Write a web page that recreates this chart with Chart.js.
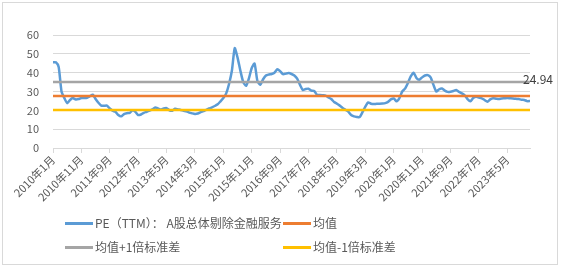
<!DOCTYPE html>
<html lang="zh">
<head>
  <meta charset="UTF-8" />
  <title>PE（TTM）：A股总体剔除金融服务</title>
  <script src="https://cdn.jsdelivr.net/npm/chart.js"></script>
  <style>
    body { margin: 0; background: #fff; font-family: "Noto Sans CJK SC", sans-serif; }
    #wrap { position: relative; width: 562px; height: 269px; }
    #frame { position: absolute; left: 2px; top: 2px; width: 556px; height: 263px; border: 1px solid #d9d9d9; box-sizing: border-box; }
    canvas { position: absolute; left: 0; top: 0; }
    .lg { position: absolute; font-size: 12px; color: #595959; line-height: 14px; white-space: nowrap; }
    .lg i { display: inline-block; width: 28px; height: 3px; vertical-align: middle; margin-right: 2px; position: relative; top: -1px; }
  </style>
</head>
<body>
  <div id="wrap">
    <div id="frame"></div>
    <canvas id="c" width="562" height="269"></canvas>
    <div class="lg" style="left:65px; top:216px"><i style="background:#5b9bd5"></i>PE（TTM）： A股总体剔除金融服务</div>
    <div class="lg" style="left:283px; top:216px"><i style="background:#ed7d31"></i>均值</div>
    <div class="lg" style="left:65px; top:240px"><i style="background:#a5a5a5"></i>均值+1倍标准差</div>
    <div class="lg" style="left:283px; top:240px"><i style="background:#ffc000"></i>均值-1倍标准差</div>
  </div>
  <script>
    // monthly categories 2010年1月 .. 2024年1月
    const months = [];
    for (let y = 2010; y <= 2024; y++) {
      for (let m = 1; m <= 12; m++) {
        if (y === 2024 && m > 1) break;
        months.push(y + '年' + m + '月');
      }
    }

    // PE (TTM)
    const peValues = [
      45.5, 45.5, 43, 30, 26.5, 23.8, 25.5, 26.5, 25.8, 26,
      26.6, 26.5, 26.7, 27.5, 28.3, 26, 24, 22.5, 22.4, 22.5,
      21, 19.8, 19.2, 17.5, 16.8, 18, 18.5, 18.6, 20, 19.2,
      17.5, 17.8, 18.7, 19.2, 19.8, 20.5, 21.5, 21, 20.4, 21,
      21.2, 20, 19.8, 20.8, 20.5, 20.2, 19.8, 19.5, 18.8, 18.4,
      18.1, 18.3, 19, 19.6, 20.2, 21, 21.6, 22.3, 23.2, 24.8,
      26.5, 29, 34, 41, 53, 48, 41, 35, 33, 37,
      42.5, 44.8, 35.5, 33.6, 36.5, 38.5, 39, 39.3, 40, 41.8,
      40.8, 39.2, 39.5, 39.8, 39.3, 38.5, 36.8, 33.5, 30.8, 31.3,
      31.5, 30.5, 30.3, 28.2, 28.2, 28, 27.8, 26.9, 26, 24.4,
      23.5, 22.5, 21.3, 20.3, 19.3, 17.5, 16.8, 16.5, 16.4, 19,
      22, 24.2, 23.5, 23.3, 23.5, 23.5, 23.6, 23.8, 24.5, 25.8,
      26.3, 24.8, 26.5, 30, 31.5, 34.5, 38, 40, 37.2, 36.2,
      37.5, 38.5, 38.7, 37.5, 33.5, 30, 31.2, 31.6, 30.5, 29.8,
      29.9, 30.3, 30.8, 29.8, 29, 28, 26, 24.8, 26.5, 27.2,
      26.8, 26.4, 25.5, 24.6, 25.8, 26.4, 26.2, 26, 26.3, 26.4,
      26.5, 26.4, 26.3, 26.1, 26, 25.6, 25.5, 24.9, 24.94
    ];
    const meanValue = 27.6;
    const upperValue = 35.0;
    const lowerValue = 20.2;
    const yTicks = [0, 10, 20, 30, 40, 50, 60];

    const lastLabel = {
      id: 'lastLabel',
      afterDatasetsDraw(chart) {
        const ctx = chart.ctx;
        const x = chart.scales.x.getPixelForValue(peValues.length - 1);
        const y = chart.scales.y.getPixelForValue(peValues[peValues.length - 1]);
        ctx.save();
        ctx.font = '12px "Noto Sans CJK SC", sans-serif';
        ctx.fillStyle = '#404040';
        ctx.textAlign = 'left';
        ctx.textBaseline = 'middle';
        ctx.fillText(peValues[peValues.length - 1].toFixed(2), x - 7, y - 22);
        ctx.restore();
      }
    };

    Chart.defaults.font.family = '"Noto Sans CJK SC", sans-serif';
    Chart.defaults.font.size = 11;
    Chart.defaults.color = '#595959';

    const flat = v => months.map(() => v);

    new Chart(document.getElementById('c'), {
      type: 'line',
      data: {
        labels: months,
        datasets: [
          { label: 'PE（TTM）： A股总体剔除金融服务', data: peValues, borderColor: '#5b9bd5', borderWidth: 2.5, order: 4 },
          { label: '均值', data: flat(meanValue), borderColor: '#ed7d31', borderWidth: 2.5, order: 3 },
          { label: '均值+1倍标准差', data: flat(upperValue), borderColor: '#a5a5a5', borderWidth: 2.5, order: 2 },
          { label: '均值-1倍标准差', data: flat(lowerValue), borderColor: '#ffc000', borderWidth: 2.5, order: 1 }
        ]
      },
      options: {
        responsive: false,
        animation: false,
        elements: { point: { radius: 0 }, line: { tension: 0.2 } },
        layout: { padding: { left: 0, right: 32, top: 35, bottom: 0 } },
        plugins: { legend: { display: false }, tooltip: { enabled: false } },
        scales: {
          x: {
            offset: false,
            afterFit: s => { s.height = 121; },
            border: { color: '#d9d9d9' },
            grid: {
              drawOnChartArea: false,
              tickLength: 5,
              color: c => (c.index % 10 === 0 ? '#d9d9d9' : 'rgba(0,0,0,0)')
            },
            ticks: {
              autoSkip: false,
              maxRotation: 45,
              minRotation: 45,
              padding: 0,
              callback: (v, i) => (i % 10 === 0 ? months[i] : '')
            }
          },
          y: {
            min: 0,
            max: 60,
            afterFit: s => { s.width = 53; },
            afterBuildTicks: s => { s.ticks = yTicks.map(v => ({ value: v })); },
            border: { display: false },
            grid: { color: '#d9d9d9', drawTicks: false },
            ticks: { padding: 14 }
          }
        }
      },
      plugins: [lastLabel]
    });
  </script>
</body>
</html>
